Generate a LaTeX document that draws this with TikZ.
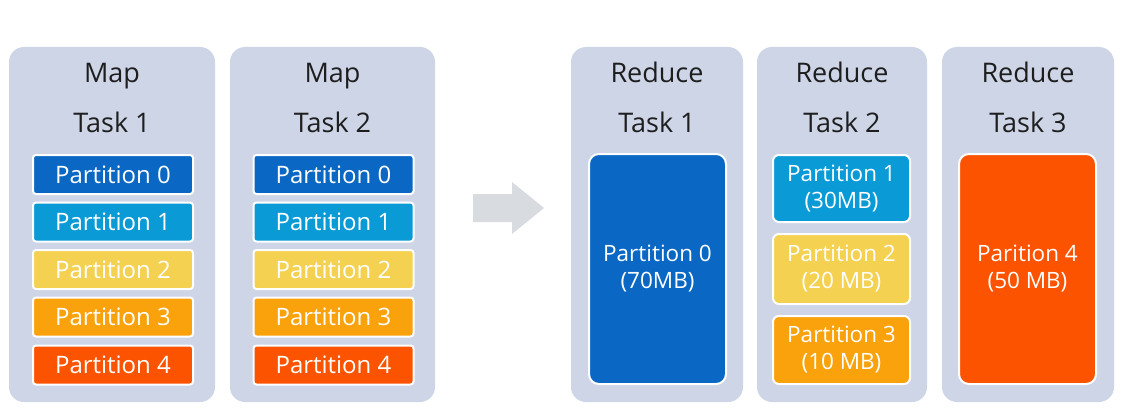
\documentclass[tikz,border=0pt]{standalone}
\usepackage{fontspec}
\setmainfont{Open Sans}
\definecolor{panel}{HTML}{CDD5E7}
\definecolor{pzero}{HTML}{0A68C4}
\definecolor{pone}{HTML}{0A9BD7}
\definecolor{ptwo}{HTML}{F4D150}
\definecolor{pthree}{HTML}{F9A20C}
\definecolor{pfour}{HTML}{FC5300}
\definecolor{arrowgray}{HTML}{D8DBDF}
\definecolor{titletext}{HTML}{1E1E1E}
\begin{document}
\begin{tikzpicture}[x=1pt,y=-1pt,
  panelbox/.style={fill=panel, draw=none, rounded corners=15pt, inner sep=0pt},
  title/.style={text=titletext, font=\fontsize{27}{30}\selectfont, inner sep=0pt, anchor=base},
  mapbox/.style={draw=white, line width=2pt, rounded corners=3pt, text=white,
    minimum width=160pt, minimum height=39pt, inner sep=0pt,
    font=\fontsize{24}{28}\selectfont},
  redbox/.style={draw=white, line width=2pt, text=white, minimum width=137pt,
    inner sep=0pt, align=center, font=\fontsize{22.5}{27}\selectfont},
]
\useasboundingbox (0,0) rectangle (1133,420);
\fill[white] (0,0) rectangle (1133,420);

% panels
\node[panelbox, minimum width=206pt, minimum height=355pt] (m1) at (112,224.5) {};
\node[panelbox, minimum width=205pt, minimum height=355pt] (m2) at (332.5,224.5) {};
\node[panelbox, minimum width=172pt, minimum height=355pt] (r1) at (657,224.5) {};
\node[panelbox, minimum width=170pt, minimum height=355pt] (r2) at (842,224.5) {};
\node[panelbox, minimum width=172pt, minimum height=355pt] (r3) at (1028,224.5) {};

% titles
\node[title] (m1a) at (112,83) {Map};
\node[title] (m1b) at (112,132) {Task 1};
\node[title] (m2a) at (332.5,83) {Map};
\node[title] (m2b) at (332.5,132) {Task 2};
\node[title] (r1a) at (657,83) {Reduce};
\node[title] (r1b) at (657,132) {Task 1};
\node[title] (r2a) at (842,83) {Reduce};
\node[title] (r2b) at (842,132) {Task 2};
\node[title] (r3a) at (1028,83) {Reduce};
\node[title] (r3b) at (1028,132) {Task 3};

% map partitions
\foreach \cx/\t in {113/a, 333.5/b}{
  \node[mapbox, fill=pzero]  (\t0) at (\cx,174.5) {Partition 0};
  \node[mapbox, fill=pone]   (\t1) at (\cx,222)   {Partition 1};
  \node[mapbox, fill=ptwo]   (\t2) at (\cx,269.5) {Partition 2};
  \node[mapbox, fill=pthree] (\t3) at (\cx,317)   {Partition 3};
  \node[mapbox, fill=pfour]  (\t4) at (\cx,365)   {Partition 4};
}

% arrow
\fill[arrowgray] (473,194) -- (512,194) -- (512,182) -- (544,208) -- (512,234) -- (512,222) -- (473,222) -- cycle;

% reduce partitions
\node[redbox, fill=pzero, rounded corners=10pt, minimum height=230pt] (rp0) at (657.5,269) {Partition 0\\(70MB)};
\node[redbox, fill=pone, rounded corners=6pt, minimum height=67pt] (rp1) at (841.5,188.5) {Partition 1\\(30MB)};
\node[redbox, fill=ptwo, rounded corners=6pt, minimum height=70pt] (rp2) at (841.5,269) {Partition 2\\(20 MB)};
\node[redbox, fill=pthree, rounded corners=6pt, minimum height=68pt] (rp3) at (841.5,350) {Partition 3\\(10 MB)};
\node[redbox, fill=pfour, rounded corners=10pt, minimum height=230pt] (rp4) at (1027.5,269) {Parition 4\\(50 MB)};
\end{tikzpicture}
\end{document}
